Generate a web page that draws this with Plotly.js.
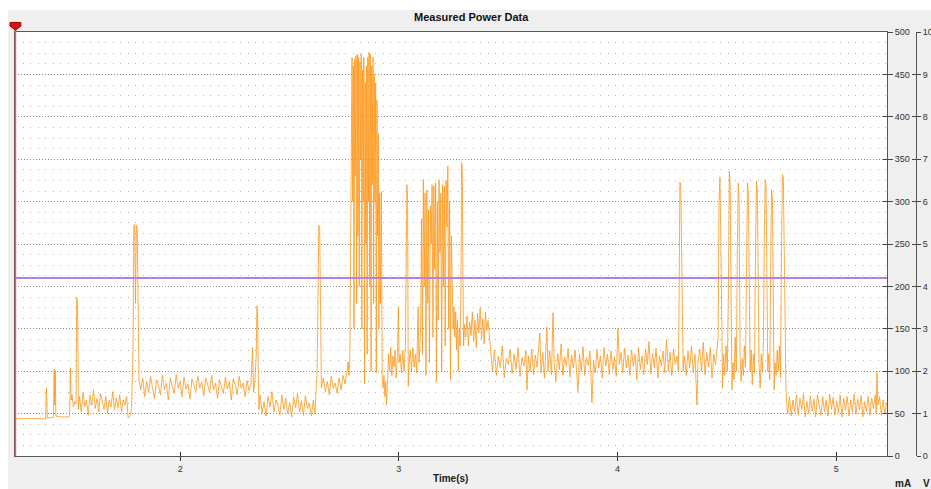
<!DOCTYPE html>
<html><head><meta charset="utf-8">
<script src="https://cdn.plot.ly/plotly-3.0.1.min.js"></script>
<style>
html,body{margin:0;padding:0;background:#ffffff;width:931px;height:489px;overflow:hidden}
#chart{position:absolute;left:8px;top:10px;width:923px;height:479px}
</style>
</head><body><div id="chart"></div>
<script>
const chartTitle = "Measured Power Data";
const xTitle = "Time(s)";
const unitLabels = ["mA", "V"];
const timeRange = [1.245, 5.232];
const currentRange = [0, 500];
const voltageRange = [0, 10];
const timeTicks = [2, 3, 4, 5];
const thresholdMa = 210;

const timeS = [
1.245,1.300,1.350,1.385,1.389,1.393,1.419,1.421,1.424,1.427,1.429,1.432,1.460,1.492,1.495,1.498,1.502,1.506,1.512,1.518,1.524,1.527,1.531,1.535,
1.540,1.548,1.556,1.564,1.572,1.580,1.588,1.596,1.604,1.612,1.620,1.628,1.636,1.644,1.652,1.660,1.668,1.676,1.684,1.692,1.700,1.708,1.716,1.724,1.732,1.740,1.748,1.756,1.762,1.768,1.772,1.778,1.785,1.788,1.792,1.796,1.800,1.804,1.808,1.812,
1.820,1.829,1.838,1.847,1.856,1.865,1.874,1.883,1.892,1.901,1.910,1.919,1.928,1.937,1.946,1.955,1.964,1.973,1.982,1.991,2.000,2.009,2.018,2.027,2.036,2.045,2.054,2.063,2.072,2.081,2.090,2.099,2.108,2.117,2.126,2.135,2.144,2.153,2.162,2.171,2.180,2.189,2.198,2.207,2.216,2.225,2.234,2.243,2.252,2.261,2.270,2.279,2.288,2.297,2.306,2.315,2.324,
2.331,2.336,2.342,2.348,2.351,2.354,2.357,2.360,
2.366,2.375,2.384,2.393,2.402,2.411,2.420,2.429,2.438,2.447,2.456,2.465,2.474,2.483,2.492,2.501,2.510,2.519,2.528,2.537,2.546,2.555,2.564,2.573,2.582,2.591,2.600,2.609,2.616,
2.621,2.626,2.631,2.634,2.638,2.642,2.646,
2.655,2.664,2.673,2.682,2.691,2.700,2.709,2.718,2.727,2.736,2.745,2.754,2.763,2.768,2.772,2.776,
2.786,2.789,2.792,2.795,2.798,2.801,2.804,2.807,2.810,2.813,2.816,2.819,2.822,2.825,2.828,2.831,2.834,2.837,2.840,2.843,2.846,2.849,2.852,2.855,2.858,2.861,2.864,2.867,2.870,2.873,2.876,2.879,2.882,2.885,2.888,
2.891,2.894,2.897,2.900,2.903,2.906,2.909,2.912,2.916,2.920,2.924,2.928,
2.932,2.936,2.940,2.944,2.948,
2.953,2.958,2.963,2.968,2.973,2.978,2.983,2.988,2.993,2.998,3.001,3.006,
3.012,3.018,3.024,3.030,3.034,3.037,3.040,3.043,3.047,
3.052,3.058,3.064,3.070,3.076,3.082,3.088,3.092,3.096,
3.100,3.104,3.108,3.112,3.116,3.120,3.124,3.128,3.132,3.136,3.140,3.144,3.148,3.152,3.156,3.160,3.164,3.168,3.172,3.176,3.180,3.184,3.188,3.192,3.196,3.200,3.204,3.208,3.212,3.216,3.220,3.224,3.228,3.232,3.236,3.240,3.244,3.248,3.252,3.256,3.260,3.264,3.268,3.272,3.276,3.280,3.284,3.287,3.290,3.293,3.296,3.300,
3.306,3.312,3.318,3.324,3.330,3.336,3.342,3.348,3.354,3.360,3.366,3.372,3.378,3.384,3.390,3.396,3.402,3.408,3.414,3.420,
3.428,3.437,3.446,3.455,3.464,3.473,3.482,3.491,3.500,3.509,3.518,3.527,3.536,3.545,3.554,3.563,3.572,3.581,3.586,3.592,3.600,3.608,3.616,3.624,3.632,3.640,3.645,3.650,3.658,3.666,3.672,3.677,3.682,3.690,3.698,3.705,3.710,3.718,3.726,3.734,3.742,3.750,3.758,3.766,3.774,3.782,3.790,3.798,3.806,3.812,3.819,3.826,3.834,3.842,3.850,3.858,3.866,3.874,3.883,3.890,3.898,3.906,3.914,3.922,3.930,3.938,3.946,3.954,3.962,3.970,3.978,3.986,3.994,4.002,4.008,4.016,4.024,4.032,4.040,4.048,4.056,4.064,4.072,4.080,4.088,4.096,4.104,4.112,4.120,4.128,4.136,4.144,4.152,4.160,4.168,4.176,4.184,4.192,4.200,4.208,4.216,4.224,4.232,4.240,4.248,4.256,4.264,4.272,4.278,
4.282,4.285,4.289,4.293,4.297,4.300,
4.306,4.314,4.322,4.330,4.338,4.346,4.354,4.363,4.368,4.376,4.384,4.392,4.400,4.408,4.416,4.424,4.432,4.440,4.448,4.455,
4.460,4.464,4.468,4.472,4.476,4.480,4.485,4.490,4.496,4.502,4.507,4.511,4.515,4.519,4.523,4.528,4.533,4.538,4.543,4.548,4.552,4.556,4.560,4.565,4.570,4.575,4.580,4.585,4.590,4.594,4.598,4.602,4.606,4.611,4.616,4.621,4.626,4.631,4.635,4.639,4.643,4.647,4.652,4.657,4.662,4.667,4.671,4.675,4.679,4.683,4.687,4.691,4.696,4.700,4.704,4.708,4.712,4.716,4.720,4.725,4.730,4.735,4.740,4.745,4.750,4.754,4.758,4.762,4.766,4.770,4.774,
4.778,4.786,4.794,4.802,4.810,4.818,4.826,4.834,4.842,4.850,4.858,4.866,4.874,4.882,4.890,4.898,4.906,4.914,4.922,4.930,4.938,4.946,4.954,4.962,4.970,4.978,4.986,4.994,5.002,5.010,5.018,5.026,5.034,5.042,5.050,5.058,5.066,5.074,5.082,5.090,5.098,5.106,5.114,5.122,5.130,5.138,5.146,5.154,5.162,5.170,5.178,5.183,5.186,5.190,5.198,5.206,5.214,5.222,5.230
];

const currentMa = [
44,44,44,44,80,45,45,46,102,60,101,47,46,46,50,104,66,72,58,64,62,187,180,55,
70,52,75,58,66,48,72,60,78,56,68,52,74,62,55,70,50,66,58,76,54,68,57,72,52,66,60,70,45,46,48,56,130,270,273,180,272,268,120,90,
78,92,70,88,75,94,80,68,90,84,72,95,78,86,66,92,82,74,96,80,88,70,93,79,85,67,91,82,76,94,80,87,71,92,83,75,95,78,86,68,90,81,74,93,79,88,66,91,84,72,94,80,86,70,89,77,85,
128,75,90,120,177,170,100,55,
72,50,64,47,70,58,76,52,66,60,48,72,55,68,50,63,46,70,57,74,52,65,48,71,56,62,47,66,50,
70,95,200,272,270,150,80,
92,76,88,72,94,80,86,74,92,78,95,85,100,111,95,115,
470,300,460,150,468,330,472,180,474,260,470,200,465,350,474,150,455,300,470,85,440,250,460,120,470,300,476,200,474,100,460,320,470,180,450,
300,440,98,420,260,380,150,310,180,312,90,80,
95,70,88,60,85,
120,100,128,95,118,105,125,92,115,176,110,120,
98,125,100,128,250,320,300,82,110,
125,100,128,105,120,98,176,110,130,
150,280,120,326,200,310,95,314,180,290,110,295,250,320,140,318,220,322,88,300,160,326,240,310,100,320,200,318,130,325,270,342,150,300,90,260,180,150,176,140,170,125,160,100,150,130,200,346,340,220,130,155,
140,165,130,158,142,170,135,160,128,168,145,175,138,162,132,170,148,160,140,120,
100,125,95,118,104,130,92,115,108,126,97,120,102,128,94,116,106,124,78,118,100,126,96,119,105,130,145,98,122,92,128,152,100,124,96,169,110,88,121,102,132,95,117,106,127,93,119,104,125,98,76,120,100,129,95,116,107,124,63,112,98,126,104,118,92,128,106,120,96,124,102,117,94,151,108,122,98,127,104,119,95,125,106,120,90,128,102,118,96,126,108,135,97,121,104,127,92,118,106,124,98,137,100,122,95,126,108,118,100,
200,323,320,250,180,100,
118,95,124,104,130,98,120,60,112,126,100,134,96,122,105,128,92,120,108,125,
140,300,329,260,150,80,120,95,130,100,200,336,320,180,78,110,90,140,100,250,322,300,120,88,115,95,130,105,260,322,310,150,100,125,84,120,98,240,324,315,170,110,80,120,100,135,260,326,318,180,100,120,90,220,314,305,140,78,110,95,125,100,130,92,250,332,328,240,120,80,60,
50,70,47,66,52,72,48,68,55,73,46,64,50,71,53,67,46,72,58,48,70,52,66,47,73,55,69,48,65,51,72,46,68,54,70,47,66,52,73,49,67,55,71,46,64,52,70,48,68,56,72,50,99,60,70,48,66,50,63
];

const traces = [
  { type: 'scatter', mode: 'lines', x: timeS, y: currentMa, xaxis: 'x', yaxis: 'y',
    line: { color: 'rgba(255,150,25,0.8)', width: 1 }, hoverinfo: 'skip', showlegend: false },
  { type: 'scatter', mode: 'markers', x: [timeRange[0]], y: [null], xaxis: 'x', yaxis: 'y2', hoverinfo: 'skip', showlegend: false },
  { type: 'scatter', mode: 'markers', x: [timeRange[0]], y: [null], xaxis: 'x', yaxis: 'y3', hoverinfo: 'skip', showlegend: false },
  { type: 'scatter', mode: 'markers', x: [timeRange[0]], y: [null], xaxis: 'x', yaxis: 'y4', hoverinfo: 'skip', showlegend: false },
  { type: 'scatter', mode: 'markers', x: [timeRange[0]], y: [null], xaxis: 'x2', yaxis: 'y', hoverinfo: 'skip', showlegend: false }
];

const tickFont = { family: 'Liberation Sans, Arial, sans-serif', size: 9, color: '#333' };
const xDomain = [0, 872 / 901];

const layout = {
  width: 923, height: 479,
  margin: { l: 7, r: 15, t: 22, b: 33, pad: 0 },
  paper_bgcolor: '#efefef', plot_bgcolor: '#ffffff',
  showlegend: false,
  xaxis: {
    domain: xDomain, range: timeRange, tickvals: timeTicks, ticktext: timeTicks.map(String),
    ticks: 'outside', ticklen: 4, tickcolor: '#333', tickwidth: 1,
    showline: true, linecolor: '#555', linewidth: 1, mirror: true,
    showgrid: false, zeroline: false, tickfont: tickFont, fixedrange: true
  },
  xaxis2: {
    overlaying: 'x', anchor: 'y', range: timeRange, tickvals: timeTicks,
    ticks: 'inside', ticklen: 4, tickcolor: '#333', showticklabels: false,
    showgrid: false, zeroline: false, showline: false
  },
  yaxis: {
    side: 'right', anchor: 'x', range: currentRange, tick0: 0, dtick: 50,
    ticks: 'outside', ticklen: 5, tickcolor: '#444',
    showline: true, linecolor: '#555', linewidth: 1, mirror: true,
    showgrid: true, gridcolor: '#8a8a8a', gridwidth: 1, griddash: '1px,2px',
    minor: { tick0: 0, dtick: 12.5, showgrid: true, gridcolor: '#b8b8b8', gridwidth: 1, griddash: '1px,6.5px', ticks: '' },
    zeroline: false, tickfont: tickFont, fixedrange: true
  },
  yaxis4: {
    overlaying: 'y', side: 'right', anchor: 'x', range: currentRange, tick0: 0, dtick: 50,
    ticks: 'inside', ticklen: 4, tickcolor: '#444', showticklabels: false,
    showgrid: false, zeroline: false, showline: false
  },
  yaxis2: {
    overlaying: 'y', side: 'right', anchor: 'free', position: 1, range: voltageRange, tick0: 0, dtick: 1,
    ticks: 'outside', ticklen: 4, tickcolor: '#444',
    showline: true, linecolor: '#555', linewidth: 1,
    showgrid: false, zeroline: false, tickfont: tickFont
  },
  yaxis3: {
    overlaying: 'y', side: 'right', anchor: 'free', position: 1, range: voltageRange, tick0: 0, dtick: 1,
    ticks: 'inside', ticklen: 4, tickcolor: '#444', showticklabels: false,
    showgrid: false, zeroline: false, showline: false
  },
  shapes: [
    { type: 'line', xref: 'x domain', yref: 'y', x0: 0, x1: 1, y0: thresholdMa, y1: thresholdMa,
      line: { color: '#b57fe0', width: 2 }, layer: 'above' },
    { type: 'line', xref: 'paper', yref: 'paper', x0: 0.0005, x1: 0.0005, y0: 0, y1: 1.008,
      line: { color: '#d9605f', width: 1.5 }, layer: 'above' },
    { type: 'path', xref: 'paper', yref: 'paper',
      path: 'M -0.0055,1.0225 L 0.0065,1.0225 L 0.0065,1.0140 L 0.0005,1.0040 L -0.0055,1.0140 Z',
      fillcolor: '#d81010', line: { color: '#a00000', width: 1 }, layer: 'above' }
  ],
  annotations: [
    { text: '<b>' + chartTitle + '</b>', xref: 'paper', yref: 'paper', x: 0.5072, y: 1.0354,
      xanchor: 'center', yanchor: 'middle', showarrow: false,
      font: { family: 'Liberation Sans, Arial, sans-serif', size: 11, color: '#111' } },
    { text: '<b>' + xTitle + '</b>', xref: 'paper', yref: 'paper', x: 0.4828, y: -0.0519,
      xanchor: 'center', yanchor: 'middle', showarrow: false,
      font: { family: 'Liberation Sans, Arial, sans-serif', size: 10, color: '#222' } },
    { text: '<b>' + unitLabels[0] + '</b>', xref: 'paper', yref: 'paper', x: 0.9856, y: -0.066,
      xanchor: 'center', yanchor: 'middle', showarrow: false,
      font: { family: 'Liberation Sans, Arial, sans-serif', size: 10, color: '#222' } },
    { text: '<b>' + unitLabels[1] + '</b>', xref: 'paper', yref: 'paper', x: 1.0122, y: -0.066,
      xanchor: 'center', yanchor: 'middle', showarrow: false,
      font: { family: 'Liberation Sans, Arial, sans-serif', size: 10, color: '#222' } }
  ]
};

Plotly.newPlot('chart', traces, layout, { displayModeBar: false, staticPlot: true });
</script>
</body></html>
